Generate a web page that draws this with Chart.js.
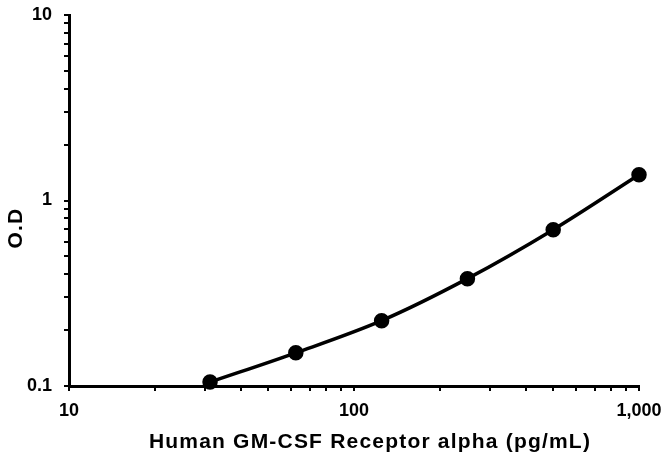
<!DOCTYPE html>
<html>
<head>
<meta charset="utf-8">
<script src="https://cdn.jsdelivr.net/npm/chart.js@4/dist/chart.umd.min.js"></script>
<style>
  html, body { margin: 0; padding: 0; background: #fff; }
  #wrap { width: 664px; height: 457px; position: relative; }
</style>
</head>
<body>
<div id="wrap"><canvas id="c" width="664" height="457"></canvas></div>
<script>
// Data
const concentrations = [31.25, 62.5, 125, 250, 500, 1000];
const odValues = [0.105, 0.151, 0.225, 0.379, 0.696, 1.376];
const xTickValues = [10, 20, 30, 40, 50, 60, 70, 80, 90, 100, 200, 300, 400, 500, 600, 700, 800, 900, 1000];
const yTickValues = [0.1, 0.2, 0.3, 0.4, 0.5, 0.6, 0.7, 0.8, 0.9, 1, 2, 3, 4, 5, 6, 7, 8, 9, 10];
const xLabeledTicks = { 10: '10', 100: '100', 1000: '1,000' };
const yLabeledTicks = { 0.1: '0.1', 1: '1', 10: '10' };
const xTitle = 'Human GM-CSF Receptor alpha (pg/mL)';
const yTitle = 'O.D';

const FONT = "'Liberation Sans', Arial, sans-serif";

const titlesPlugin = {
  id: 'titlesPlugin',
  afterDraw(chart) {
    const ctx = chart.ctx;
    const area = chart.chartArea;
    ctx.save();
    ctx.fillStyle = '#000';
    ctx.font = 'bold 21px ' + FONT;
    if ('letterSpacing' in ctx) ctx.letterSpacing = '1.2px';
    ctx.textAlign = 'center';
    ctx.textBaseline = 'alphabetic';
    ctx.fillText(xTitle, (area.left + area.right) / 2 + 16, 448);
    ctx.translate(22, 228);
    ctx.rotate(-Math.PI / 2);
    ctx.fillText(yTitle, 0, 0);
    ctx.restore();
  }
};

new Chart(document.getElementById('c'), {
  type: 'line',
  data: {
    datasets: [{
      data: concentrations.map((x, i) => ({ x: x, y: odValues[i] })),
      borderColor: '#000',
      backgroundColor: '#000',
      borderWidth: 3.5,
      pointRadius: 6,
      pointHoverRadius: 6,
      pointBackgroundColor: '#000',
      pointBorderColor: '#000',
      cubicInterpolationMode: 'monotone',
      clip: false
    }]
  },
  options: {
    responsive: false,
    animation: false,
    events: [],
    layout: { padding: { top: 15, right: 25, left: 0, bottom: 0 } },
    plugins: { legend: { display: false }, tooltip: { enabled: false } },
    scales: {
      x: {
        type: 'logarithmic',
        min: 10,
        max: 1000,
        afterBuildTicks(scale) { scale.ticks = xTickValues.map(v => ({ value: v })); },
        afterFit(scale) { scale.height = 71; scale.paddingLeft = 0; scale.paddingRight = 0; },
        ticks: {
          autoSkip: false,
          maxRotation: 0,
          padding: 9,
          color: '#000',
          font: { family: FONT, size: 18, weight: 'bold' },
          callback(value) { return xLabeledTicks[value] !== undefined ? xLabeledTicks[value] : ''; }
        },
        grid: { drawOnChartArea: false, color: '#000', lineWidth: 2, tickLength: 5 },
        border: { color: '#000', width: 3 }
      },
      y: {
        type: 'logarithmic',
        min: 0.1,
        max: 10,
        afterBuildTicks(scale) { scale.ticks = yTickValues.map(v => ({ value: v })); },
        afterFit(scale) { scale.width = 69; scale.paddingTop = 0; scale.paddingBottom = 0; },
        ticks: {
          autoSkip: false,
          padding: 12,
          color: '#000',
          font: { family: FONT, size: 18, weight: 'bold' },
          callback(value) {
            const k = Object.keys(yLabeledTicks).find(t => Math.abs(parseFloat(t) - value) < 1e-9);
            return k !== undefined ? yLabeledTicks[k] : '';
          }
        },
        grid: { drawOnChartArea: false, color: '#000', lineWidth: 2, tickLength: 5 },
        border: { color: '#000', width: 3 }
      }
    }
  },
  plugins: [titlesPlugin]
});
</script>
</body>
</html>
